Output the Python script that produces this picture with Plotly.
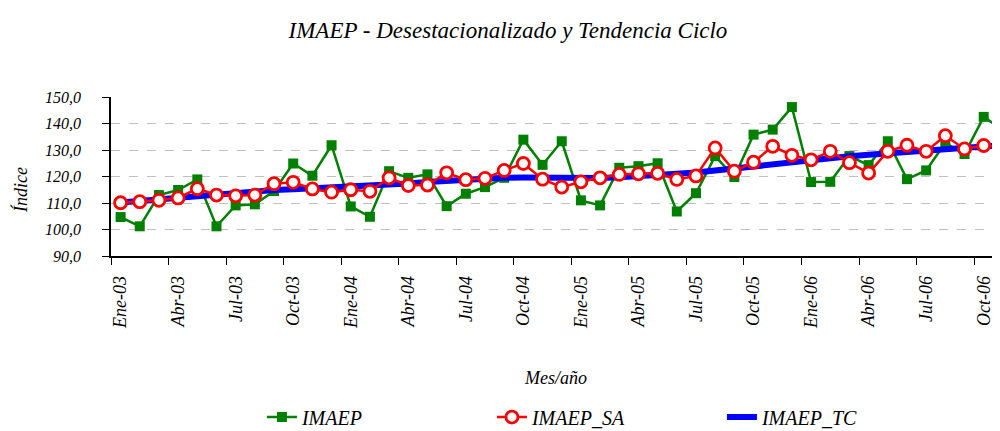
import plotly.graph_objects as go

# month labels Ene-03 .. Nov-06
month_names = ["Ene", "Feb", "Mar", "Abr", "May", "Jun",
               "Jul", "Ago", "Sep", "Oct", "Nov", "Dic"]
years = ["03", "04", "05", "06"]
months = [f"{m}-{y}" for y in years for m in month_names][:47]

imaep = [104.7, 101.2, 113.0, 114.9, 118.9, 101.2, 109.1, 109.5, 114.5, 124.9, 120.3, 131.8,
         108.7, 104.8, 122.0, 119.5, 120.8, 108.8, 113.5, 116.0, 119.5, 133.9, 124.4, 133.3,
         111.0, 109.1, 123.3, 123.9, 125.0, 106.8, 113.7, 127.7, 119.8, 135.8, 137.7, 146.2,
         117.9, 118.0, 127.7, 124.3, 133.3, 119.0, 122.3, 132.7, 128.5, 142.5, 137.7]

imaep_sa = [110.1, 110.5, 111.0, 111.9, 115.4, 113.0, 112.7, 113.0, 117.3, 117.8, 115.3, 114.1,
            115.0, 114.4, 119.5, 116.6, 116.8, 121.4, 118.8, 119.3, 122.3, 124.9, 119.0, 116.0,
            118.0, 119.5, 120.8, 121.0, 121.2, 118.9, 120.2, 130.8, 122.0, 125.4, 131.4, 128.0,
            126.3, 129.5, 125.2, 121.3, 129.5, 131.8, 129.5, 135.4, 130.4, 131.7, 131.1]

imaep_tc = [110.2, 110.8, 111.5, 112.2, 112.9, 113.5, 114.0, 114.5, 114.9, 115.2, 115.5, 115.7,
            116.0, 116.4, 116.9, 117.4, 117.9, 118.4, 118.9, 119.3, 119.5, 119.6, 119.5, 119.4,
            119.3, 119.4, 119.7, 120.0, 120.4, 121.0, 121.5, 122.3, 123.2, 124.0, 124.9, 125.7,
            126.4, 127.0, 127.6, 128.2, 128.8, 129.3, 129.8, 130.3, 130.8, 131.3, 131.8]

y_ticks = [90, 100, 110, 120, 130, 140, 150]

FONT = "Liberation Serif"

fig = go.Figure()

fig.add_trace(go.Scatter(
    x=months, y=imaep, name="<i>IMAEP</i>", mode="lines+markers",
    line=dict(color="#008000", width=2.5),
    marker=dict(symbol="square", size=10, color="#008000"),
    legendrank=1,
))
fig.add_trace(go.Scatter(
    x=months, y=imaep_tc, name="<i>IMAEP_TC</i>", mode="lines",
    line=dict(color="#0000ff", width=6),
    legendrank=3,
))
fig.add_trace(go.Scatter(
    x=months, y=imaep_sa, name="<i>IMAEP_SA</i>", mode="lines+markers",
    line=dict(color="#ff0000", width=2.5),
    marker=dict(symbol="circle", size=12, color="white",
                line=dict(color="#ff0000", width=2.8)),
    legendrank=2,
))

# the page body adds an 8px margin, so the figure is 8px smaller each way
fig.update_layout(
    width=992, height=423,
    margin=dict(l=103, r=0, t=89, b=175),
    paper_bgcolor="white", plot_bgcolor="white",
    font=dict(family=FONT, color="black"),
    showlegend=True,
    title=dict(
        text="<i>IMAEP - Desestacionalizado y Tendencia Ciclo</i>",
        font=dict(size=23, family=FONT),
        x=0.504, xref="container", xanchor="center",
        y=0.948, yref="container", yanchor="middle",
    ),
    legend=dict(
        orientation="h",
        xref="container", x=0.256, xanchor="left",
        yref="container", y=0.033, yanchor="middle",
        entrywidth=185,
        font=dict(size=20, family=FONT),
        traceorder="normal",
    ),
)

fig.update_xaxes(
    type="category",
    range=[-0.5, 45.85],
    tickmode="array", tickvals=months[::3], ticktext=[f"<i>{m}</i>" for m in months[::3]],
    tickson="boundaries",
    ticks="outside", ticklen=7, tickcolor="black",
    tickangle=-90,
    tickfont=dict(size=18, family=FONT),
    ticklabelstandoff=11,
    showline=True, linecolor="black", linewidth=1.5,
    showgrid=False, zeroline=False,
)

fig.update_yaxes(
    range=[90, 150],
    tickmode="array", tickvals=y_ticks,
    ticktext=[f"<i>{v:.1f}</i>".replace(".", ",") for v in y_ticks],
    ticks="outside", ticklen=7, tickcolor="black",
    tickfont=dict(size=16, family=FONT),
    ticklabelstandoff=18,
    showline=True, linecolor="black", linewidth=1.5,
    showgrid=True, gridcolor="#c0c0c0", griddash="dash", gridwidth=1,
    zeroline=False,
)

fig.add_annotation(
    text="<i>Índice</i>", textangle=-90,
    xref="paper", yref="paper", x=-0.102, y=0.417,
    xanchor="center", yanchor="middle",
    showarrow=False, font=dict(size=18, family=FONT),
)
fig.add_annotation(
    text="<i>Mes/año</i>",
    xref="paper", yref="paper", x=0.5, y=-0.765,
    xanchor="center", yanchor="middle",
    showarrow=False, font=dict(size=18, family=FONT),
)

fig.write_html("out.html")
